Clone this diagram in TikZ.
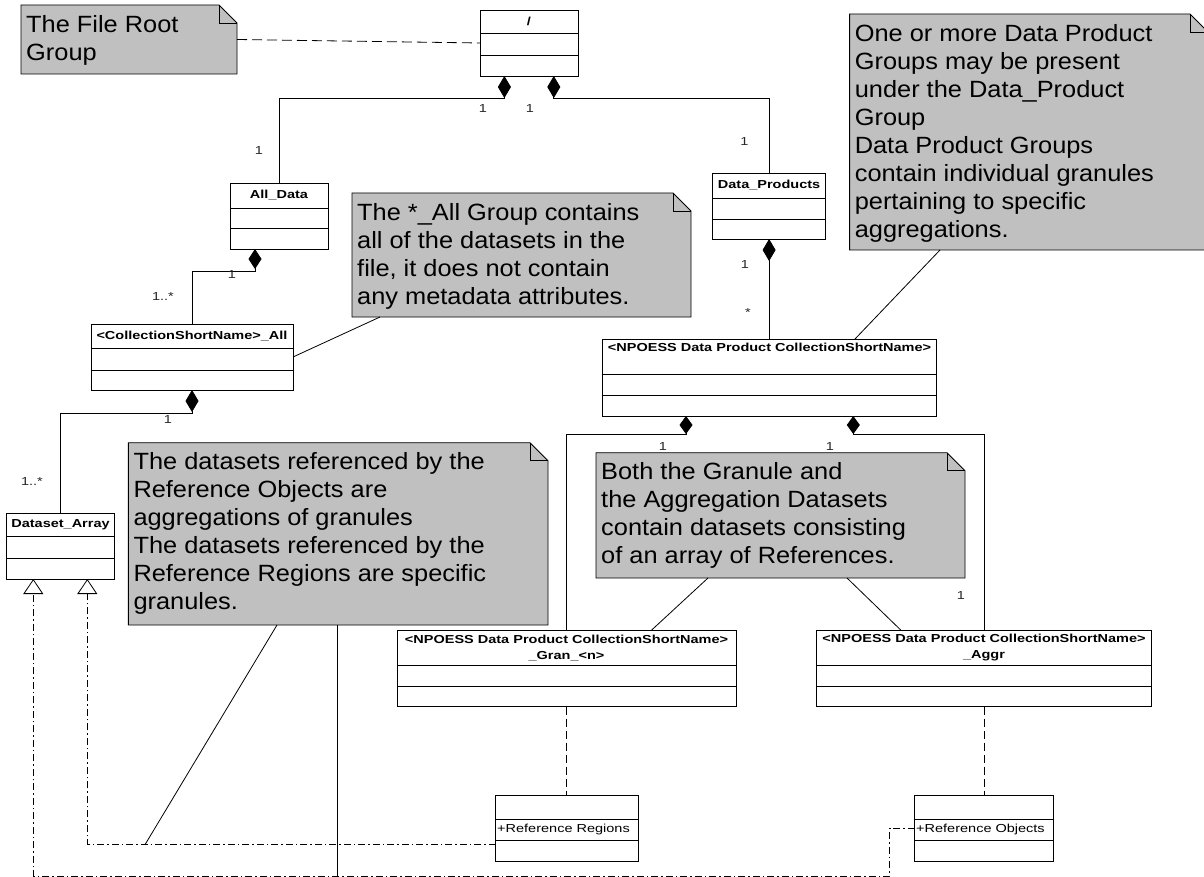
\documentclass[tikz,border=0pt]{standalone}
\usepackage{fontspec}
\setmainfont{Liberation Sans}
\newfontfamily\notefont[FakeStretch=1.08]{Liberation Sans}
\newfontfamily\clsfont[FakeStretch=1.25]{Liberation Sans}
\usetikzlibrary{arrows.meta,fit}
\definecolor{notegrey}{RGB}{192,192,192}

\tikzset{
  cls/.style={draw, line width=0.9pt, fill=white, inner sep=0pt, outer sep=0pt, rectangle},
  clsname/.style={font=\clsfont\bfseries\fontsize{11.6}{16}\selectfont, inner sep=0pt, align=center},
  attr/.style={font=\clsfont\fontsize{11.6}{14}\selectfont, inner sep=0pt, anchor=west},
  mult/.style={font=\clsfont\fontsize{11.6}{14}\selectfont, inner sep=0pt, text=black!85},
  notebody/.style={fill=notegrey, draw, line width=0.9pt, line join=miter},
  notetext/.style={font=\notefont\fontsize{23.5}{28}\selectfont, inner sep=0pt, align=left, anchor=north west},
  comp/.style={line width=0.8pt, {Diamond[length=#1,width=13pt]}-},
  comp/.default=21pt,
  noteline/.style={line width=0.8pt},
  depline/.style={line width=0.8pt, dash pattern=on 8pt off 4pt},
  notedash/.style={line width=0.8pt, dash pattern=on 10pt off 5pt},
  realize/.style={line width=0.8pt, dash pattern=on 7pt off 3pt on 1.5pt off 3pt,
    -{Triangle[open, length=15pt, width=20pt, fill=white]}},
}

% class box: name, x1, y1, x2, y2, first separator, second separator
\newcommand{\umlclass}[7]{%
  \node[cls, minimum width={#4-#2}, minimum height={#5-#3}] (#1) at ({(#2+#4)/2},{(#3+#5)/2}) {};
  \draw[line width=0.9pt] (#2,#6) -- (#4,#6) (#2,#7) -- (#4,#7);
}

% note with folded corner: name, x1, y1, x2, y2, text
\newcommand{\umlnote}[6]{%
  \pgfmathsetmacro{\foldx}{#4-18}\pgfmathsetmacro{\foldy}{#3+18}
  \path[notebody] (#2,#3) -- (\foldx,#3) -- (#4,\foldy) -- (#4,#5) -- (#2,#5) -- cycle;
  \draw[line width=0.9pt] (\foldx,#3) -- (\foldx,\foldy) -- (#4,\foldy);
  \node[inner sep=0pt, outer sep=0pt, fit={(#2,#3) (#4,#5)}] (#1) {};
  \node[notetext] (#1text) at (#2+5,#3+9) {\rule{0pt}{18pt}#6};
}

\begin{document}
\begin{tikzpicture}[x=1pt, y=-1pt]
\useasboundingbox (0,0) rectangle (1204,877);
\clip (0,0) rectangle (1204,877);
\fill[white] (0,0) rectangle (1204,877);

% ---- notes ----
\umlnote{rootnote}{21}{5}{237}{74}{The File Root\\Group}
\umlnote{bignote}{849.6}{14}{1208}{250}{One or more Data Product\\Groups may be present\\under the Data\_Product\\Group\\Data Product Groups\\contain individual granules\\pertaining to specific\\aggregations.}
\umlnote{allnote}{352}{193}{691}{317}{The *\_All Group contains\\all of the datasets in the\\file, it does not contain\\any metadata attributes.}
\umlnote{dsnote}{128.3}{442.7}{548}{625}{The datasets referenced by the\\Reference Objects are\\aggregations of granules\\The datasets referenced by the\\Reference Regions are specific\\granules.}
\umlnote{bothnote}{596}{452.7}{965}{578}{Both the Granule and\\the Aggregation Datasets\\contain datasets consisting\\of an array of References.}

% ---- classes ----
\umlclass{root}{480}{10}{578}{76}{33.3}{55}
\node[clsname] (rootname) at (529,21.7) {/};

\umlclass{alldata}{230}{183}{328}{249}{208}{228}
\node[clsname] (alldataname) at (279,195.5) {All\_Data};

\umlclass{dataprod}{712.9}{173}{825.3}{239}{198}{219}
\node[clsname] (dataprodname) at (769.1,185.5) {Data\_Products};

\umlclass{collall}{91}{324}{293}{390}{348}{370}
\node[clsname] (collallname) at (192,336) {<CollectionShortName>\_All};

\umlclass{dsarray}{6.7}{513.3}{114.3}{579}{536.7}{558.3}
\node[clsname] (dsarrayname) at (60.5,525) {Dataset\_Array};

\umlclass{npoess}{602.3}{339}{936.7}{416}{374}{395.7}
\node[clsname] (npoessname) at (769.5,347.5) {<NPOESS Data Product CollectionShortName>};

\umlclass{gran}{397}{630}{736}{706.7}{665}{686.7}
\node[clsname] (granname) at (566.5,647.5) {<NPOESS Data Product CollectionShortName>\\\_Gran\_<n>};

\umlclass{aggr}{816.8}{630}{1151.3}{706.7}{665}{686.7}
\node[clsname] (aggrname) at (984,647.5) {<NPOESS Data Product CollectionShortName>\\\_Aggr};

\umlclass{refreg}{495.6}{795}{638.5}{861}{819}{840}
\node[attr] (refregattr) at (497,829.5) {+Reference Regions};

\umlclass{refobj}{914.7}{795}{1053.4}{861}{819}{840}
\node[attr] (refobjattr) at (916,829.5) {+Reference Objects};

% ---- composition connectors ----
\draw[comp=22pt] ([xshift=24.4pt]root.south west) -- ++(0,22) -| (alldata.north);
\draw[comp=22pt] ([xshift=73.8pt]root.south west) -- ++(0,22) -| (dataprod.north);
\draw[comp=20pt] ([xshift=25pt]alldata.south west) -- ++(0,22.7) -| (collall.north);
\draw[comp=22pt] (dataprod.south) -- (dataprod.south |- npoess.north);
\draw[comp=22pt] (collall.south) -- ++(0,23) -| (dsarray.north);
\draw[comp=18pt] ([xshift=83.7pt]npoess.south west) -- ++(0,18) -| (gran.north);
\draw[comp=18pt] ([xshift=251pt]npoess.south west) -- ++(0,18) -| (aggr.north);

% ---- multiplicities ----
\node[mult] (m1) at (483,109) {1};
\node[mult] (m2) at (530,109) {1};
\node[mult] (m3) at (259,151) {1};
\node[mult] (m4) at (744.5,142) {1};
\node[mult] (m5) at (232,275) {1};
\node[mult] (m6) at (163,297) {1..*};
\node[mult] (m7) at (745,265) {1};
\node[mult] (m8) at (748,313) {*};
\node[mult] (m9) at (168,420) {1};
\node[mult] (m10) at (32,482) {1..*};
\node[mult] (m11) at (663,447) {1};
\node[mult] (m12) at (830,447) {1};
\node[mult] (m13) at (961,596) {1};

% ---- dependencies from the NPOESS groups to the reference lists ----
\draw[depline] (gran.south) -- (gran.south |- refreg.north);
\draw[depline] (aggr.south) -- (aggr.south |- refobj.north);
\draw[notedash] (rootnote.east) -- (root.west);

% ---- realizations of Dataset_Array ----
\draw[realize] (refobj.west) -- ++(-25,0) -- ++(0,48) -| ([xshift=26.6pt]dsarray.south west);
\draw[realize] ([yshift=-16pt]refreg.west) -| ([xshift=80.6pt]dsarray.south west);

% ---- note anchors ----
\coordinate (dsend) at (145.4,844);
\coordinate (dsend2) at (337,876);
\draw[noteline] ([xshift=28pt]allnote.south west) -- (collall.east);
\draw[noteline] ([xshift=90.4pt]bignote.south west) -- ([xshift=252.7pt]npoess.north west);
\draw[noteline] ([xshift=112pt]bothnote.south west) -- ([xshift=254.7pt]gran.north west);
\draw[noteline] ([xshift=251pt]bothnote.south west) -- ([xshift=83.9pt]aggr.north west);
\draw[noteline] ([xshift=148.7pt]dsnote.south west) -- (dsend);
\draw[noteline] ([xshift=208.7pt]dsnote.south west) -- (dsend2);
\end{tikzpicture}
\end{document}
